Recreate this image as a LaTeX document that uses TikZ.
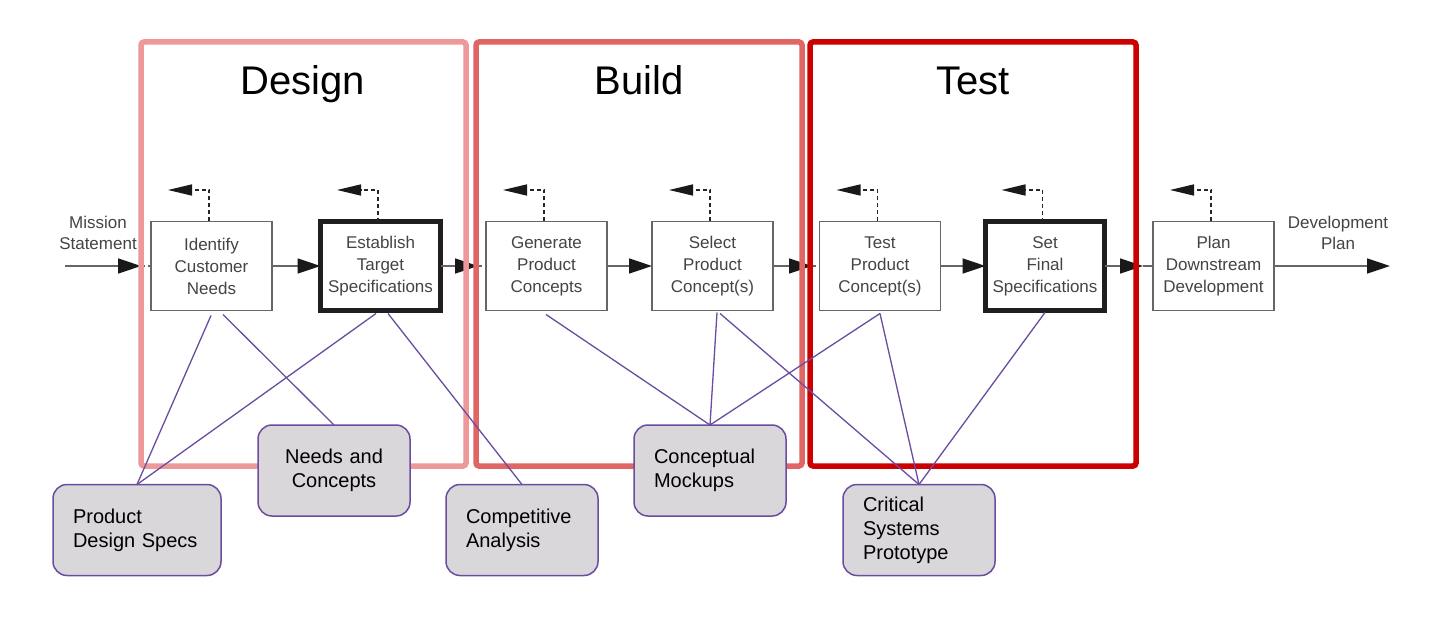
\documentclass[tikz,border=0pt]{standalone}
\usepackage{fontspec}
\setmainfont{Liberation Sans}
\usetikzlibrary{arrows.meta,calc}
\definecolor{framea}{HTML}{EE9999}
\definecolor{frameb}{HTML}{E06666}
\definecolor{framec}{HTML}{CC0000}
\definecolor{purp}{HTML}{6A4CA0}
\definecolor{boxfill}{HTML}{D9D7D9}
\definecolor{txtgray}{HTML}{444444}
\definecolor{edgegray}{HTML}{666666}
\begin{document}
\begin{tikzpicture}[x=1pt,y=-1pt,
  procbox/.style={draw=edgegray, line width=1.5pt, minimum width=121pt, minimum height=89pt,
    inner sep=0pt, outer sep=0pt, align=center, text=txtgray, font=\fontsize{17}{22}\selectfont},
  keybox/.style={procbox, draw=black!88, line width=5pt, minimum width=120pt, minimum height=88pt},
  lbl/.style={align=center, text=txtgray, font=\fontsize{17}{21}\selectfont, inner sep=0pt},
  flow/.style={draw=edgegray, line width=1.5pt, -{Triangle[length=23pt,width=15pt,color=black!90]}},
  gapline/.style={draw=edgegray, line width=1.5pt, dash pattern=on 4pt off 3pt},
  fb/.style={draw=black!85, line width=1.5pt, dash pattern=on 4pt off 3pt, -{Triangle[length=24pt,width=11pt,color=black!90]}},
  phase/.style={line width=5.5pt, rounded corners=3pt},
  ttl/.style={anchor=base, font=\fontsize{40}{48}\selectfont, inner sep=0pt},
  link/.style={draw=purp, line width=1.3pt},
  note/.style={draw=purp, line width=1.5pt, fill=boxfill, rounded corners=14pt, minimum height=91pt,
    text width=112pt, inner xsep=20pt, inner ysep=0pt, outer sep=0pt, align=left,
    font=\fontsize{20}{24}\selectfont}
]
\fill[white] (0,0) rectangle (1450,628);
\useasboundingbox (0,0) rectangle (1450,628);

% process boxes
\node[procbox] (idn) at (211.5,266) {Identify\\Customer\\Needs};
\node[keybox]  (ets) at (380.5,266) {Establish\\Target\\Specifications};
\node[procbox] (gpc) at (546.5,266) {Generate\\Product\\Concepts};
\node[procbox] (spc) at (712.5,266) {Select\\Product\\Concept(s)};
\node[procbox] (tpc) at (880,266) {Test\\Product\\Concept(s)};
\node[keybox, minimum width=119pt] (sfs) at (1045,266) {Set\\Final\\Specifications};
\node[procbox] (pdd) at (1213.5,266) {Plan\\Downstream\\Development};

% side labels
\node[lbl] (msl) at (98,232.5) {Mission\\Statement};
\node[lbl] (dpl) at (1338,233) {Development\\Plan};

% flow coordinates
\coordinate (msin) at (65,266);
\coordinate (mstip) at (141,266);
\coordinate (tipa) at (478,266);
\coordinate (tipb) at (812,266);
\coordinate (tipc) at (1143,266);
\coordinate (dpout) at (1390,266);

% main flow
\draw[flow] (msin) -- (mstip);
\draw[gapline] (mstip) -- (idn.west);
\draw[flow] (idn.east) -- (ets.west);
\draw[flow] (ets.east) -- (tipa);
\draw[gapline] (tipa) -- (gpc.west);
\draw[flow] (gpc.east) -- (spc.west);
\draw[flow] (spc.east) -- (tipb);
\draw[gapline] (tipb) -- (tpc.west);
\draw[flow] (tpc.east) -- (sfs.west);
\draw[flow] (sfs.east) -- (tipc);
\draw[draw=edgegray, line width=1.5pt] (tipc) -- (pdd.west);
\draw[flow] (pdd.east) -- (dpout);

% feedback arrows
\foreach \n in {idn,ets,gpc,spc,tpc,sfs,pdd}{
  \draw[fb] ([xshift=-2.5pt]\n.north) -- ([xshift=-2.5pt]\n.north |- 0,190) -- ++(-41,0);
}

% phase frames
\draw[phase, framea] (141,42) rectangle (466,466);
\draw[phase, frameb] (476,42) rectangle (802,466);
\draw[phase, framec] (810,42) rectangle (1136,466);
\node[ttl] (tdes) at (303,95) {Design};
\node[ttl] (tbld) at (639,95) {Build};
\node[ttl] (ttst) at (973,95) {Test};

% deliverables
\node[note, text width=128pt] (pds) at (137,530) {Product\\Design Specs};
\node[note, align=center] (nac) at (334,470.5) {Needs and\\Concepts};
\node[note] (cpa) at (522,530) {Competitive\\Analysis};
\node[note] (ccm) at (710,470.5) {Conceptual\\Mockups};
\node[note] (csp) at (919,530) {Critical\\Systems\\Prototype};

% links
\draw[link] ($(idn.south)+(-0.5,5)$) -- (pds.north);
\draw[link] ($(idn.south)+(11.5,4)$) -- (nac.north);
\draw[link] ($(ets.south)+(-4.5,3.5)$) -- (pds.north);
\draw[link] ($(ets.south)+(7.5,3.5)$) -- (cpa.north);
\draw[link] ($(gpc.south)+(-0.5,4)$) -- (ccm.north);
\draw[link] ($(spc.south)+(4.5,2)$) -- (ccm.north);
\draw[link] ($(spc.south)+(7.5,3)$) -- (csp.north);
\draw[link] ($(tpc.south)+(0,3)$) -- (ccm.north);
\draw[link] ($(tpc.south)+(0,3)$) -- (csp.north);
\draw[link] ($(sfs.south)+(0,2.5)$) -- (csp.north);
\end{tikzpicture}
\end{document}
